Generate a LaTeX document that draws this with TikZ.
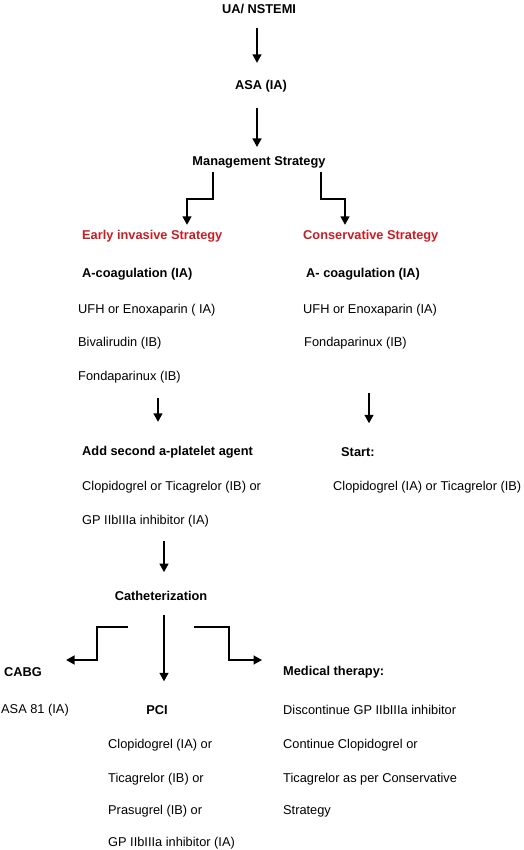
\documentclass[tikz,border=0pt]{standalone}
\usepackage{fontspec}
\setmainfont{Liberation Sans}
\usetikzlibrary{arrows.meta}
\definecolor{headred}{RGB}{200,30,35}
\tikzset{
  txt/.style={inner sep=0pt, anchor=west, font=\fontsize{12.8}{15}\selectfont},
  bld/.style={txt, font=\fontsize{12.8}{15}\selectfont\bfseries},
  ctr/.style={bld, anchor=center},
  head/.style={bld, text=headred},
  arr/.style={line width=1.5pt, -{Triangle[length=8.5pt,width=9pt]}},
}
\begin{document}
\begin{tikzpicture}[x=1pt,y=1pt]
 \useasboundingbox (0,0) rectangle (523,-850);
 \node[ctr] (ua) at (259,-9) {UA/ NSTEMI};
 \node[ctr] (asa) at (261,-86) {ASA (IA)};
 \node[ctr] (mgmt) at (259,-162) {Management Strategy};
 \node[head] (early) at (82,-236) {Early invasive Strategy};
 \node[head] (cons) at (303,-236) {Conservative Strategy};
 \node[bld] (coagL) at (82,-274) {A-coagulation (IA)};
 \node[bld] (coagR) at (306,-274) {A- coagulation (IA)};
 \node[txt] (ufhL) at (78,-310) {UFH or Enoxaparin ( IA)};
 \node[txt] (ufhR) at (303,-310) {UFH or Enoxaparin (IA)};
 \node[txt] (bivL) at (78,-343) {Bivalirudin (IB)};
 \node[txt] (fondR) at (304,-343) {Fondaparinux (IB)};
 \node[txt] (fondL) at (78,-377) {Fondaparinux (IB)};
 \node[bld] (addsec) at (82,-452) {Add second a-platelet agent};
 \node[bld] (start) at (341,-452) {Start:};
 \node[txt] (clopL) at (82,-487) {Clopidogrel or Ticagrelor (IB) or};
 \node[txt] (clopR) at (333,-487) {Clopidogrel (IA) or Ticagrelor (IB)};
 \node[txt] (gp) at (82,-521) {GP IIbIIIa inhibitor (IA)};
 \node[ctr] (cath) at (161,-596) {Catheterization};
 \node[bld] (cabg) at (4,-672) {CABG};
 \node[txt] (asa81) at (1,-710) {ASA 81 (IA)};
 \node[ctr] (pci) at (157,-710) {PCI};
 \node[txt] (pclop) at (108,-745) {Clopidogrel (IA) or};
 \node[txt] (ptica) at (108,-779) {Ticagrelor (IB) or};
 \node[txt] (pras) at (108,-811) {Prasugrel (IB) or};
 \node[txt] (pgp) at (108,-843) {GP IIbIIIa inhibitor (IA)};
 \node[bld] (med) at (283,-672) {Medical therapy:};
 \node[txt] (disc) at (283,-710) {Discontinue GP IIbIIIa inhibitor};
 \node[txt] (cont) at (283,-745) {Continue Clopidogrel or};
 \node[txt] (ticaR) at (283,-779) {Ticagrelor as per Conservative};
 \node[txt] (strat) at (283,-811) {Strategy};

 \draw[arr] ([xshift=-2pt,yshift=-14pt]ua.south) -- ([xshift=-2pt,yshift=17pt]ua.south |- asa.north);
 \draw[arr] ([xshift=-2pt,yshift=-16pt]ua.south |- asa.south) -- ([xshift=-2pt,yshift=9pt]ua.south |- mgmt.north);
 \draw[arr] ([xshift=-46pt,yshift=-4pt]mgmt.south) -- ++(0,-27) -| ([xshift=105pt,yshift=5pt]early.north west);
 \draw[arr] ([xshift=62pt,yshift=-4pt]mgmt.south) -- ++(0,-27) -| ([xshift=42pt,yshift=5pt]cons.north west);
 \draw[arr] ([xshift=80pt,yshift=-15pt]fondL.south west) -- ([xshift=80pt,yshift=24pt]fondL.south west |- addsec.north);
 \draw[arr] ([xshift=65pt,yshift=-44pt]fondR.south west) -- ([xshift=65pt,yshift=24pt]fondR.south west |- start.north);
 \draw[arr] ([xshift=82pt,yshift=-14pt]gp.south west) -- ([xshift=82pt,yshift=19pt]gp.south west |- cath.north);
 \draw[arr] ([xshift=-33pt,yshift=-26pt]cath.south) -- ++(-31,0) |- ([xshift=24pt,yshift=12pt]cabg.east);
 \draw[arr] ([xshift=3pt,yshift=-14pt]cath.south) -- ([xshift=3pt,yshift=24pt]cath.south |- pci.north);
 \draw[arr] ([xshift=33pt,yshift=-26pt]cath.south) -- ++(35,0) |- ([xshift=-21pt,yshift=12pt]med.west);
\end{tikzpicture}
\end{document}
